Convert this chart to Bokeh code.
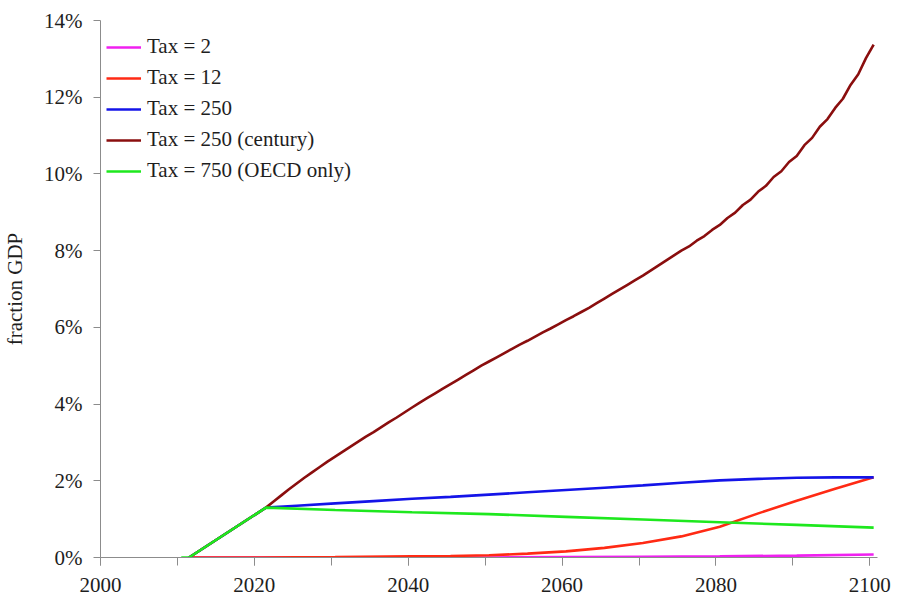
from bokeh.plotting import figure
from bokeh.models import (Range1d, SingleIntervalTicker, PrintfTickFormatter,
                          Legend, LegendItem)
from bokeh.embed import file_html
from bokeh.resources import INLINE

# Carbon tax revenue as a share of GDP, by scenario (values in percent)
tax2_years = [2011, 2050, 2060, 2070, 2080, 2090, 2100]
tax2_vals = [0.00, 0.00, 0.01, 0.02, 0.03, 0.05, 0.08]

tax12_years = [2011, 2020, 2030, 2040, 2045, 2050, 2055, 2060, 2065, 2070,
               2075, 2080, 2085, 2090, 2095, 2100]
tax12_vals = [0.00, 0.00, 0.01, 0.03, 0.04, 0.06, 0.10, 0.16, 0.25, 0.38,
              0.55, 0.80, 1.15, 1.48, 1.79, 2.09]

tax250_years = [2011, 2021, 2025, 2030, 2035, 2040, 2045, 2050, 2055, 2060,
                2065, 2070, 2075, 2080, 2085, 2090, 2095, 2100]
tax250_vals = [0.00, 1.30, 1.35, 1.41, 1.47, 1.53, 1.58, 1.64, 1.70, 1.76,
               1.82, 1.88, 1.95, 2.01, 2.05, 2.08, 2.09, 2.09]

century_years = [2011] + list(range(2021, 2101))
century_vals = [
    0.00,
    1.30, 1.46, 1.62, 1.78, 1.93, 2.08, 2.22, 2.36, 2.50, 2.63,   # 2021-2030
    2.76, 2.89, 3.02, 3.15, 3.27, 3.40, 3.53, 3.65, 3.78, 3.91,   # 2031-2040
    4.04, 4.16, 4.28, 4.40, 4.52, 4.64, 4.76, 4.88, 5.00, 5.11,   # 2041-2050
    5.22, 5.33, 5.44, 5.55, 5.65, 5.76, 5.87, 5.97, 6.08, 6.19,   # 2051-2060
    6.29, 6.40, 6.51, 6.63, 6.75, 6.87, 6.99, 7.11, 7.23, 7.35,   # 2061-2070
    7.48, 7.61, 7.74, 7.87, 8.00, 8.11, 8.26, 8.38, 8.54, 8.67,   # 2071-2080
    8.85, 8.99, 9.19, 9.33, 9.54, 9.69, 9.92, 10.07, 10.31, 10.47,  # 2081-2090
    10.75, 10.94, 11.23, 11.43, 11.72, 11.96, 12.32, 12.60, 13.02, 13.37,  # 2091-2100
]

oecd_years = [2010, 2011, 2021, 2030, 2040, 2050, 2060, 2070, 2080, 2090, 2100]
oecd_vals = [0.00, 0.00, 1.30, 1.24, 1.18, 1.13, 1.06, 0.99, 0.92, 0.85, 0.78]

series = [
    ("Tax = 2", tax2_years, tax2_vals, "#f020f0"),
    ("Tax = 12", tax12_years, tax12_vals, "#ff2a14"),
    ("Tax = 250", tax250_years, tax250_vals, "#1414e8"),
    ("Tax = 250 (century)", century_years, century_vals, "#8a0e0e"),
    ("Tax = 750 (OECD only)", oecd_years, oecd_vals, "#1ee81e"),
]

# annual values sit in the middle of each year's slot
MID_YEAR = 0.5

FONT = "Liberation Serif"
SIZE = "21px"
TEXT = "#1e1e1e"
AXIS = "#8c8c8c"

p = figure(width=898, height=601,
           x_range=Range1d(2000, 2101), y_range=Range1d(0, 14),
           output_backend="svg", toolbar_location=None,
           min_border_left=100, min_border_right=21,
           min_border_top=20, min_border_bottom=44)
p.outline_line_color = None
p.xgrid.grid_line_color = None
p.ygrid.grid_line_color = None
p.background_fill_color = "white"
p.border_fill_color = "white"

items = []
for label, yrs, vals, color in series:
    xs = [y + MID_YEAR for y in yrs]
    r = p.line(xs, vals, line_color=color, line_width=2.6)
    items.append(LegendItem(label=label, renderers=[r]))

# x axis: labels every 20 years, ticks every 10
xa = p.xaxis[0]
xa.ticker = SingleIntervalTicker(interval=20, num_minor_ticks=2)
xa.axis_line_color = AXIS
xa.major_tick_line_color = AXIS
xa.minor_tick_line_color = AXIS
xa.major_tick_in = 0
xa.major_tick_out = 8
xa.minor_tick_in = 0
xa.minor_tick_out = 8
xa.major_label_standoff = 12
xa.major_label_text_font = FONT
xa.major_label_text_font_size = SIZE
xa.major_label_text_color = TEXT

ya = p.yaxis[0]
ya.ticker = SingleIntervalTicker(interval=2, num_minor_ticks=0)
ya.formatter = PrintfTickFormatter(format="%d%%")
ya.axis_line_color = AXIS
ya.major_tick_line_color = AXIS
ya.minor_tick_line_color = None
ya.major_tick_in = 0
ya.major_tick_out = 7
ya.major_label_standoff = 11
ya.major_label_text_font = FONT
ya.major_label_text_font_size = SIZE
ya.major_label_text_color = TEXT
ya.axis_label = "fraction GDP"
ya.axis_label_text_font = FONT
ya.axis_label_text_font_size = SIZE
ya.axis_label_text_font_style = "normal"
ya.axis_label_text_color = TEXT
ya.axis_label_standoff = 14

legend = Legend(items=items, location=(6, 374),
                border_line_color=None, background_fill_alpha=0,
                padding=0, margin=0, spacing=6,
                glyph_width=35, glyph_height=20, label_height=20,
                label_standoff=6,
                label_text_font=FONT, label_text_font_size=SIZE,
                label_text_color=TEXT)
p.add_layout(legend)

open("out.html", "w").write(file_html(p, INLINE))
